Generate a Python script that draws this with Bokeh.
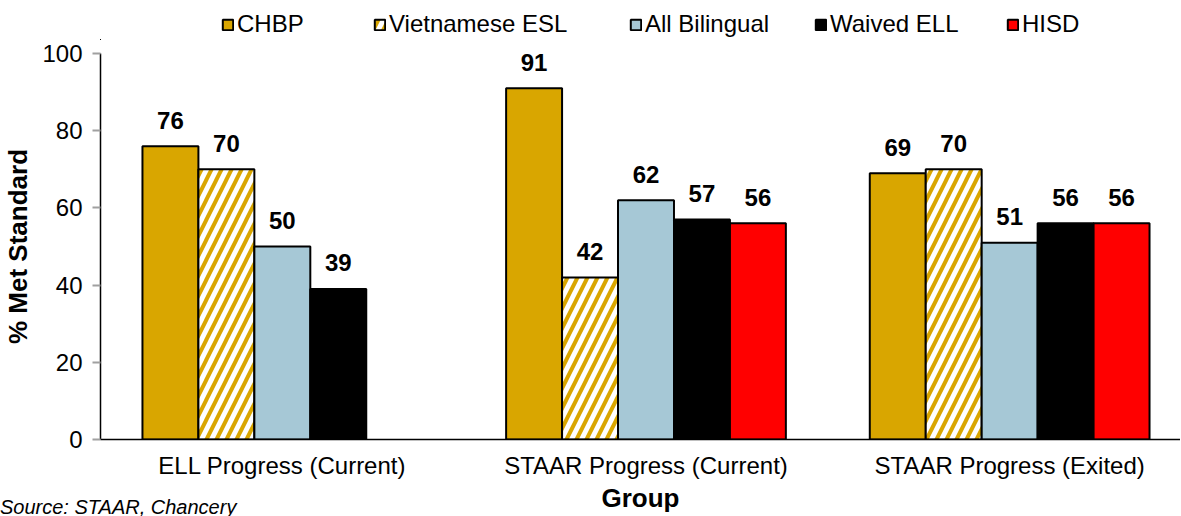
from bokeh.plotting import figure
from bokeh.layouts import column
from bokeh.models import (Range1d, FixedTicker, Legend, LegendItem, Div,
                          ColumnDataSource)
from bokeh.embed import file_html
from bokeh.resources import INLINE

groups = ["ELL Progress (Current)", "STAAR Progress (Current)", "STAAR Progress (Exited)"]
series_names = ["CHBP", "Vietnamese ESL", "All Bilingual", "Waived ELL", "HISD"]
chbp = [76, 91, 69]
viet = [70, 42, 70]
allbil = [50, 62, 51]
waived = [39, 57, 56]
hisd = [float("nan"), 56, 56]
y_ticks = [0, 20, 40, 60, 80, 100]

colors = ["#D9A600", "#FFFFFF", "#A6C8D6", "#000000", "#FF0000"]
values = [chbp, viet, allbil, waived, hisd]

FONT = "Liberation Sans"
W = 1180
LEG_H, MAIN_H = 40, 476
LEFT = 99
FRAME_TOP, FRAME_BOTTOM = 53, 439
group_px = 364.0
bar_w = 56.0 / group_px


def style_for(name, col):
    kw = dict(fill_color=col, line_color="black", line_width=2)
    if name == "Vietnamese ESL":
        kw.update(hatch_pattern="/", hatch_color="#D9A600", hatch_scale=20,
                  hatch_weight=4)
    return kw


def bare(fig):
    fig.outline_line_color = None
    fig.xgrid.visible = False
    fig.ygrid.visible = False


sources = []
for i, vals in enumerate(values):
    xs = [g + 0.5 + (i - 2) * bar_w for g in range(len(groups))]
    sources.append(ColumnDataSource(dict(
        x=xs, top=vals, lab=["" if (v != v) else str(int(v)) for v in vals])))

# ---------- legend strip ----------
leg = figure(width=W, height=LEG_H, output_backend="svg", toolbar_location=None,
             x_range=Range1d(100, 101), y_range=Range1d(1000, 1001),
             x_axis_location=None, y_axis_location=None,
             min_border=0)
bare(leg)
leg_x = [220, 372, 628, 813, 1005]
for name, col, lx, src in zip(series_names, colors, leg_x, sources):
    r = leg.vbar(x="x", top="top", width=bar_w, source=src, **style_for(name, col))
    lg = Legend(items=[LegendItem(label=name, renderers=[r], index=0)],
                location=(lx - LEFT, 2),
                orientation="horizontal", border_line_alpha=0,
                background_fill_alpha=0, padding=0, margin=0, spacing=0,
                glyph_width=13, glyph_height=13, label_standoff=3,
                label_text_font_size="24px", label_text_font=FONT,
                label_text_color="black")
    leg.add_layout(lg, "center")

# ---------- main chart ----------
p = figure(width=W, height=MAIN_H, output_backend="svg", toolbar_location=None,
           x_range=Range1d(0, (W - LEFT) / group_px), y_range=Range1d(0, 100),
           min_border_left=LEFT, min_border_right=0,
           min_border_top=FRAME_TOP - LEG_H,
           min_border_bottom=LEG_H + MAIN_H - FRAME_BOTTOM)
bare(p)

for name, col, src in zip(series_names, colors, sources):
    p.vbar(x="x", top="top", width=bar_w, source=src, **style_for(name, col))
    p.text(x="x", y="top", text="lab", source=src, text_align="center",
           text_baseline="alphabetic", y_offset=-26, text_font_size="24px",
           text_font_style="bold", text_color="black",
           text_font={"value": FONT})

ya = p.yaxis[0]
ya.ticker = FixedTicker(ticks=y_ticks)
ya.minor_tick_line_color = None
ya.major_tick_out = 8
ya.major_tick_in = 0
ya.major_tick_line_color = "#A0A0A0"
ya.major_tick_line_width = 2
ya.axis_line_color = "black"
ya.axis_line_width = 1.5
ya.major_label_text_font = FONT
ya.major_label_text_font_size = "24px"
ya.major_label_text_color = "black"
ya.major_label_standoff = 10
ya.axis_label = "% Met Standard"
ya.axis_label_text_font = FONT
ya.axis_label_text_font_size = "26px"
ya.axis_label_text_font_style = "bold"
ya.axis_label_text_color = "black"
ya.axis_label_standoff = 6

xa = p.xaxis[0]
xa.ticker = FixedTicker(ticks=[g + 0.5 for g in range(len(groups))])
xa.major_label_overrides = {g + 0.5: name for g, name in enumerate(groups)}
xa.major_tick_out = 0
xa.major_tick_in = 0
xa.minor_tick_line_color = None
xa.axis_line_color = "black"
xa.axis_line_width = 1.5
xa.major_label_text_font = FONT
xa.major_label_text_font_size = "24px"
xa.major_label_text_color = "black"
xa.major_label_standoff = 12
xa.axis_label = "Group"
xa.axis_label_text_font = FONT
xa.axis_label_text_font_size = "26px"
xa.axis_label_text_font_style = "bold"
xa.axis_label_text_color = "black"
xa.axis_label_standoff = 1

source_note = Div(text="Source: STAAR, Chancery", width=400, height=18,
                  margin=(-18, 0, 0, 0),
                  styles={"font-family": FONT, "font-size": "20px",
                          "font-style": "italic", "line-height": "18px",
                          "color": "black", "white-space": "nowrap"})

layout = column(leg, p, source_note, spacing=0)
open("out.html", "w").write(file_html(layout, INLINE))
